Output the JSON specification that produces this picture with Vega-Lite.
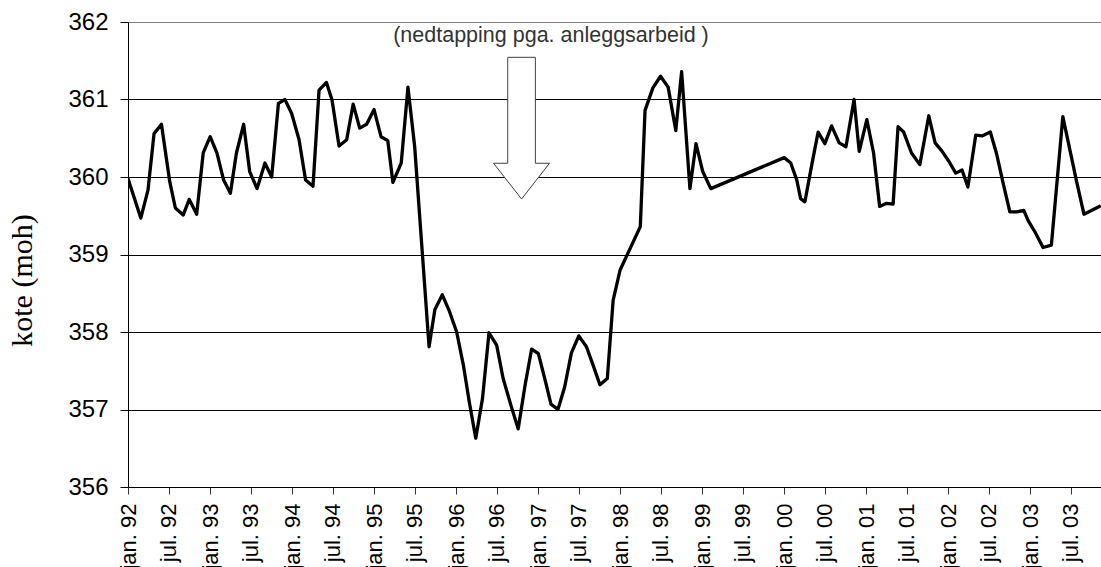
{
  "$schema": "https://vega.github.io/schema/vega-lite/v6.json",
  "width": 973,
  "height": 465,
  "autosize": {"type": "none"},
  "padding": {"left": 128, "top": 22, "right": 0, "bottom": 80},
  "background": "white",
  "config": {"view": {"stroke": null}},
  "datasets": {
    "series": [
      {"d": "1992-01-01", "v": 359.98}, {"d": "1992-02-27", "v": 359.47}, {"d": "1992-03-30", "v": 359.83},
      {"d": "1992-04-26", "v": 360.56}, {"d": "1992-05-29", "v": 360.68}, {"d": "1992-07-05", "v": 359.94},
      {"d": "1992-07-30", "v": 359.60}, {"d": "1992-09-03", "v": 359.51}, {"d": "1992-09-30", "v": 359.71},
      {"d": "1992-11-02", "v": 359.52}, {"d": "1992-12-01", "v": 360.31}, {"d": "1993-01-01", "v": 360.52},
      {"d": "1993-01-31", "v": 360.31}, {"d": "1993-03-02", "v": 359.96}, {"d": "1993-04-01", "v": 359.79},
      {"d": "1993-04-28", "v": 360.31}, {"d": "1993-05-30", "v": 360.68}, {"d": "1993-06-26", "v": 360.07},
      {"d": "1993-07-29", "v": 359.85}, {"d": "1993-09-02", "v": 360.18}, {"d": "1993-10-02", "v": 360.00},
      {"d": "1993-11-01", "v": 360.95}, {"d": "1993-11-30", "v": 361.00}, {"d": "1993-12-30", "v": 360.82},
      {"d": "1994-02-01", "v": 360.48}, {"d": "1994-03-02", "v": 359.96}, {"d": "1994-04-04", "v": 359.88},
      {"d": "1994-05-01", "v": 361.12}, {"d": "1994-06-03", "v": 361.22}, {"d": "1994-06-28", "v": 360.99},
      {"d": "1994-07-29", "v": 360.40}, {"d": "1994-09-01", "v": 360.48}, {"d": "1994-09-30", "v": 360.94},
      {"d": "1994-10-29", "v": 360.63}, {"d": "1994-11-29", "v": 360.68}, {"d": "1995-01-01", "v": 360.87},
      {"d": "1995-02-01", "v": 360.52}, {"d": "1995-03-03", "v": 360.47}, {"d": "1995-03-26", "v": 359.93},
      {"d": "1995-05-02", "v": 360.18}, {"d": "1995-06-01", "v": 361.16}, {"d": "1995-07-01", "v": 360.39},
      {"d": "1995-09-03", "v": 357.81}, {"d": "1995-09-29", "v": 358.29}, {"d": "1995-11-01", "v": 358.48},
      {"d": "1995-12-01", "v": 358.28}, {"d": "1996-01-04", "v": 358.00}, {"d": "1996-02-03", "v": 357.57},
      {"d": "1996-02-29", "v": 357.10}, {"d": "1996-03-29", "v": 356.63}, {"d": "1996-04-28", "v": 357.14},
      {"d": "1996-05-27", "v": 357.99}, {"d": "1996-06-30", "v": 357.83}, {"d": "1996-07-29", "v": 357.40},
      {"d": "1996-09-02", "v": 357.05}, {"d": "1996-10-04", "v": 356.75}, {"d": "1996-11-04", "v": 357.32},
      {"d": "1996-12-03", "v": 357.78}, {"d": "1997-01-02", "v": 357.72}, {"d": "1997-02-01", "v": 357.38},
      {"d": "1997-02-27", "v": 357.07}, {"d": "1997-03-30", "v": 357.00}, {"d": "1997-04-29", "v": 357.29},
      {"d": "1997-05-29", "v": 357.73}, {"d": "1997-07-01", "v": 357.95}, {"d": "1997-08-04", "v": 357.81},
      {"d": "1997-09-03", "v": 357.57}, {"d": "1997-10-03", "v": 357.32}, {"d": "1997-11-05", "v": 357.40},
      {"d": "1997-12-01", "v": 358.41}, {"d": "1998-01-01", "v": 358.80}, {"d": "1998-04-01", "v": 359.36},
      {"d": "1998-04-22", "v": 360.86}, {"d": "1998-05-27", "v": 361.15}, {"d": "1998-06-30", "v": 361.30},
      {"d": "1998-08-03", "v": 361.16}, {"d": "1998-09-06", "v": 360.60}, {"d": "1998-10-02", "v": 361.36},
      {"d": "1998-11-08", "v": 359.85}, {"d": "1998-12-05", "v": 360.43}, {"d": "1999-01-04", "v": 360.07},
      {"d": "1999-02-09", "v": 359.85}, {"d": "2000-01-02", "v": 360.25}, {"d": "2000-01-31", "v": 360.18},
      {"d": "2000-02-27", "v": 359.96}, {"d": "2000-03-15", "v": 359.72}, {"d": "2000-04-03", "v": 359.68},
      {"d": "2000-05-02", "v": 360.13}, {"d": "2000-06-01", "v": 360.58}, {"d": "2000-07-01", "v": 360.43},
      {"d": "2000-07-31", "v": 360.66}, {"d": "2000-09-03", "v": 360.44}, {"d": "2000-10-03", "v": 360.39},
      {"d": "2000-11-08", "v": 361.00}, {"d": "2000-12-01", "v": 360.33}, {"d": "2001-01-04", "v": 360.74},
      {"d": "2001-02-03", "v": 360.31}, {"d": "2001-03-02", "v": 359.62}, {"d": "2001-04-02", "v": 359.66},
      {"d": "2001-05-01", "v": 359.65}, {"d": "2001-05-23", "v": 360.65}, {"d": "2001-06-17", "v": 360.58},
      {"d": "2001-07-22", "v": 360.31}, {"d": "2001-08-28", "v": 360.16}, {"d": "2001-10-07", "v": 360.79},
      {"d": "2001-11-04", "v": 360.44}, {"d": "2001-12-03", "v": 360.34}, {"d": "2002-01-05", "v": 360.20},
      {"d": "2002-02-04", "v": 360.05}, {"d": "2002-03-04", "v": 360.09}, {"d": "2002-03-30", "v": 359.87},
      {"d": "2002-05-04", "v": 360.54}, {"d": "2002-06-01", "v": 360.53}, {"d": "2002-07-08", "v": 360.58},
      {"d": "2002-08-04", "v": 360.31}, {"d": "2002-09-03", "v": 359.92}, {"d": "2002-10-03", "v": 359.55},
      {"d": "2002-11-02", "v": 359.55}, {"d": "2002-12-04", "v": 359.57}, {"d": "2002-12-23", "v": 359.44},
      {"d": "2003-01-23", "v": 359.29}, {"d": "2003-02-28", "v": 359.09}, {"d": "2003-04-06", "v": 359.12},
      {"d": "2003-05-27", "v": 360.78}, {"d": "2003-06-26", "v": 360.37}, {"d": "2003-07-26", "v": 359.96},
      {"d": "2003-08-29", "v": 359.52}, {"d": "2003-11-12", "v": 359.63}
    ],
    "arrow": [{"d": "1996-10-19", "v": 360.63}],
    "note": [{"d": "1997-02-27", "v": 361.82, "label": "(nedtapping pga. anleggsarbeid )"}]
  },
  "encoding": {
    "x": {
      "field": "d",
      "type": "temporal",
      "scale": {
        "type": "utc",
        "domain": [
          {"year": 1992, "month": 1, "date": 1, "utc": true},
          {"year": 2003, "month": 11, "date": 13, "utc": true}
        ]
      },
      "axis": {
        "title": null,
        "tickCount": {"interval": "month", "step": 6},
        "labelExpr": "(utcFormat(datum.value, '%m') == '01' ? 'jan. ' : 'jul. ') + utcFormat(datum.value, '%y')",
        "labelAngle": -90,
        "labelAlign": "right",
        "labelBaseline": "middle",
        "labelFont": "Liberation Sans",
        "labelFontSize": 22,
        "labelColor": "black",
        "labelPadding": 9,
        "labelOverlap": false,
        "labelBound": false,
        "labelFlush": false,
        "grid": false,
        "domainColor": "black",
        "domainWidth": 1,
        "tickColor": "#333333",
        "tickSize": 7,
        "tickWidth": 1
      }
    },
    "y": {
      "field": "v",
      "type": "quantitative",
      "scale": {"domain": [356, 362], "nice": false, "zero": false},
      "axis": {
        "title": "kote (moh)",
        "titleFont": "Liberation Serif",
        "titleFontSize": 30,
        "titleFontWeight": "normal",
        "titleColor": "black",
        "titleAngle": -90,
        "titleAlign": "center",
        "titleBaseline": "middle",
        "titleX": -106,
        "titleY": 258,
        "values": [356, 357, 358, 359, 360, 361, 362],
        "labelFont": "Liberation Sans",
        "labelFontSize": 24,
        "labelColor": "black",
        "labelPadding": 12,
        "labelBaseline": "middle",
        "domainColor": "black",
        "domainWidth": 1,
        "tickColor": "black",
        "tickSize": 8,
        "tickWidth": 1,
        "grid": true,
        "gridColor": {"condition": {"test": "datum.value == 362", "value": "#808080"}, "value": "black"},
        "gridWidth": 1,
        "gridOpacity": 1
      }
    }
  },
  "layer": [
    {
      "data": {"name": "series"},
      "mark": {"type": "line", "color": "black", "strokeWidth": 3.3, "clip": true, "strokeJoin": "round"}
    },
    {
      "data": {"name": "arrow"},
      "mark": {
        "type": "point",
        "shape": "M -0.195 -1 L 0.195 -1 L 0.195 0.495 L 0.395 0.495 L 0 1 L -0.395 0.495 L -0.195 0.495 Z",
        "size": 20079,
        "filled": true,
        "fill": "white",
        "stroke": "#404040",
        "strokeWidth": 1,
        "opacity": 1,
        "fillOpacity": 1,
        "strokeOpacity": 1
      }
    },
    {
      "data": {"name": "note"},
      "mark": {
        "type": "text",
        "font": "Liberation Sans",
        "fontSize": 21.5,
        "color": "#333333",
        "align": "center",
        "baseline": "middle"
      },
      "encoding": {"text": {"field": "label"}}
    }
  ]
}
